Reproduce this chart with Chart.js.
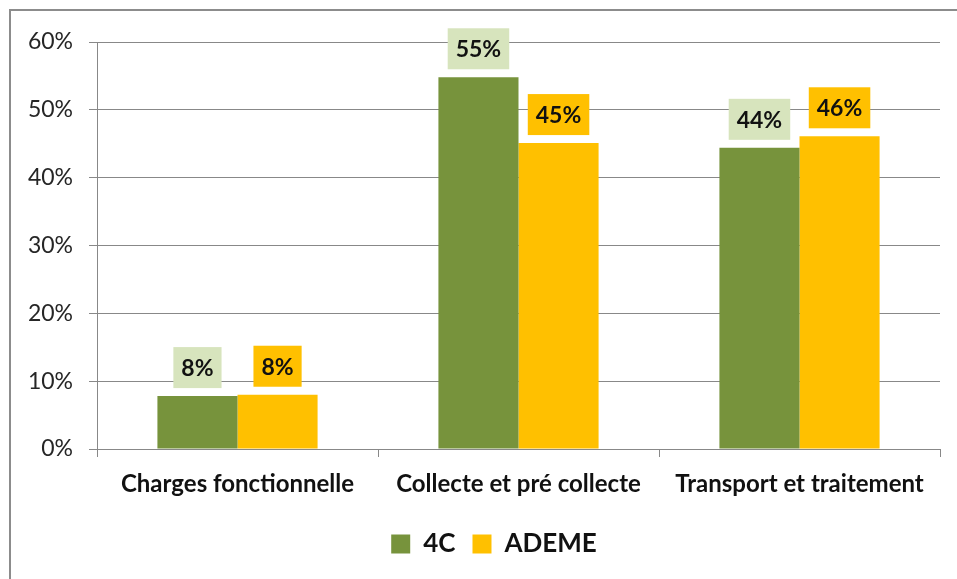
<!DOCTYPE html>
<html>
<head>
<meta charset="utf-8">
<script src="https://cdn.jsdelivr.net/npm/chart.js@4"></script>
<style>
  html, body { margin: 0; padding: 0; background: #fff; }
  #wrap { width: 957px; height: 579px; position: relative; }
</style>
</head>
<body>
<div id="wrap"><canvas id="c" width="957" height="579"></canvas></div>
<script>
// données
const categories = ['Charges fonctionnelle', 'Collecte et pré collecte', 'Transport et traitement'];
const serie4C    = [7.8, 54.8, 44.4];
const serieADEME = [8.0, 45.1, 46.1];
const labels4C    = ['8%', '55%', '44%'];
const labelsADEME = ['8%', '45%', '46%'];
const yTicks = [0, 10, 20, 30, 40, 50, 60];

const GREEN = '#77933C', ORANGE = '#FFC000', GREEN_LIGHT = '#D7E4BD';
const FONT = 'Lato, "Open Sans", sans-serif';

// cadre gris autour du graphique
const frame = {
  id: 'frame',
  beforeDraw(chart) {
    const c = chart.ctx;
    c.save();
    c.fillStyle = '#fff';
    c.fillRect(0, 0, chart.width, chart.height);
    c.strokeStyle = '#8c8c8c';
    c.lineWidth = 2;
    c.strokeRect(10, 10, chart.width + 5, chart.height + 5);
    c.restore();
  }
};

// légende un peu décalée vers la droite, comme dans l'original
const legendShift = {
  id: 'legendShift',
  afterLayout(chart) {
    chart.legend.left += 24;
    chart.legend.right += 24;
  }
};

// étiquettes de valeur avec fond coloré
const boxLabels = {
  id: 'boxLabels',
  afterDatasetsDraw(chart) {
    const c = chart.ctx;
    c.save();
    c.font = 'bold 23px ' + FONT;
    c.textAlign = 'center';
    c.textBaseline = 'middle';
    chart.data.datasets.forEach((ds, i) => {
      const meta = chart.getDatasetMeta(i);
      meta.data.forEach((bar, j) => {
        const txt = ds.txtLabels[j];
        const w = c.measureText(txt).width + 16;
        const h = 41;
        const bottom = bar.y - 8;
        c.fillStyle = ds.labelBg;
        c.fillRect(bar.x - w / 2, bottom - h, w, h);
        c.fillStyle = '#111';
        c.fillText(txt, bar.x, bottom - h / 2 + 1);
      });
    });
    c.restore();
  }
};

new Chart(document.getElementById('c'), {
  type: 'bar',
  data: {
    labels: categories,
    datasets: [
      { label: '4C', data: serie4C, backgroundColor: GREEN, txtLabels: labels4C, labelBg: GREEN_LIGHT },
      { label: 'ADEME', data: serieADEME, backgroundColor: ORANGE, txtLabels: labelsADEME, labelBg: ORANGE }
    ]
  },
  options: {
    responsive: false,
    animation: false,
    layout: { padding: { top: 42, right: 17, left: 0, bottom: 12 } },
    datasets: { bar: { barPercentage: 1, categoryPercentage: 0.57 } },
    plugins: {
      tooltip: { enabled: false },
      legend: {
        position: 'bottom',
        labels: {
          font: { family: FONT, size: 26, weight: 'bold' },
          color: '#111',
          boxWidth: 19, boxHeight: 19,
          padding: 17
        }
      }
    },
    scales: {
      x: {
        grid: { offset: true, drawOnChartArea: false, tickLength: 8, color: '#888' },
        border: { color: '#888' },
        ticks: { font: { family: FONT, size: 24, weight: 'bold' }, color: '#111', padding: 13 },
        afterFit(s) { s.height = 65; }
      },
      y: {
        min: 0, max: 60,
        afterBuildTicks(s) { s.ticks = yTicks.map(v => ({ value: v })); },
        grid: { color: '#888', tickLength: 8 },
        border: { color: '#888' },
        ticks: {
          font: { family: FONT, size: 23 }, color: '#262626', padding: 16,
          callback: v => v + '%'
        },
        afterFit(s) { s.width = 97; }
      }
    }
  },
  plugins: [frame, legendShift, boxLabels]
});
</script>
</body>
</html>
